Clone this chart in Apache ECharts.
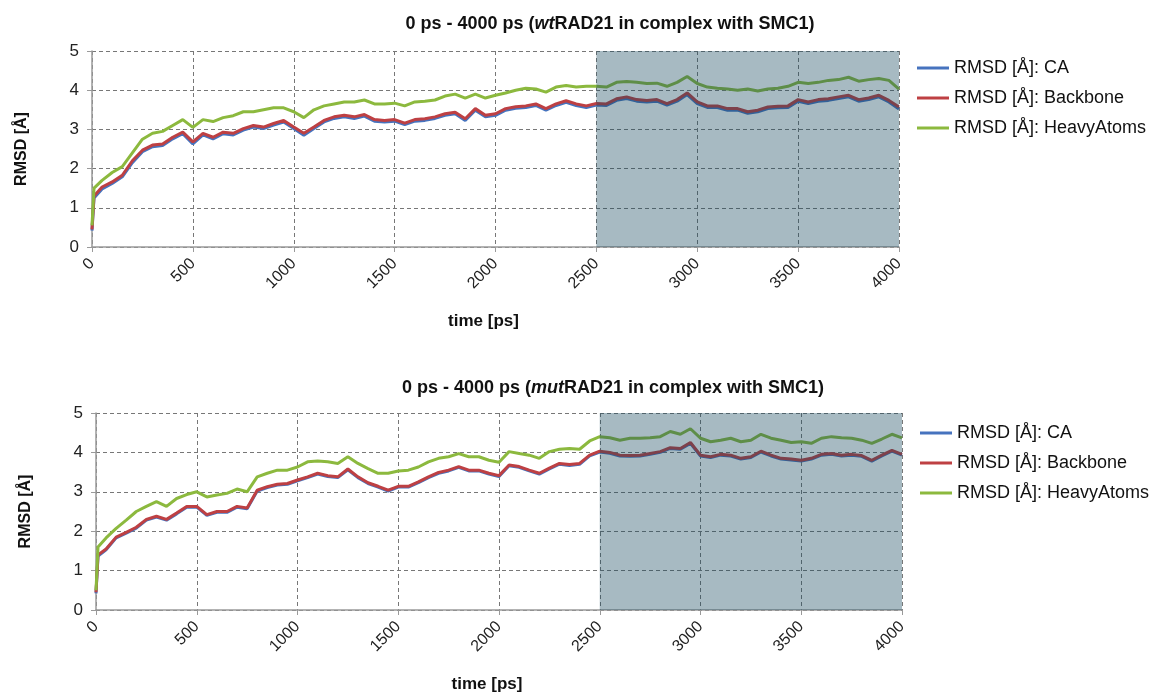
<!DOCTYPE html>
<html>
<head>
<meta charset="utf-8">
<script src="https://cdn.jsdelivr.net/npm/echarts@6/dist/echarts.min.js"></script>
<style>
html,body{margin:0;padding:0;background:#fff;}
#c{width:1153px;height:696px;}
</style>
</head>
<body>
<div id="c"></div>
<script>
// time points [ps]
const times = [0, 10, 50, 100, 150, 200, 250, 300, 350, 400, 450, 500, 550, 600, 650, 700, 750, 800, 850, 900, 950,
  1000, 1050, 1100, 1150, 1200, 1250, 1300, 1350, 1400, 1450, 1500, 1550, 1600, 1650, 1700, 1750, 1800, 1850, 1900, 1950,
  2000, 2050, 2100, 2150, 2200, 2250, 2300, 2350, 2400, 2450, 2500, 2550, 2600, 2650, 2700, 2750, 2800, 2850, 2900, 2950,
  3000, 3050, 3100, 3150, 3200, 3250, 3300, 3350, 3400, 3450, 3500, 3550, 3600, 3650, 3700, 3750, 3800, 3850, 3900, 3950, 4000];

// wtRAD21 in complex with SMC1
const wtCA = [0.42, 1.25, 1.48, 1.62, 1.79, 2.15, 2.43, 2.56, 2.59, 2.76, 2.89, 2.63, 2.86, 2.76, 2.89, 2.86, 2.98, 3.06, 3.02, 3.11, 3.19,
  3.02, 2.85, 3.02, 3.19, 3.28, 3.32, 3.28, 3.34, 3.21, 3.19, 3.21, 3.12, 3.21, 3.23, 3.28, 3.36, 3.40, 3.23, 3.49, 3.32,
  3.36, 3.49, 3.54, 3.56, 3.61, 3.49, 3.61, 3.69, 3.61, 3.56, 3.62, 3.61, 3.74, 3.79, 3.72, 3.70, 3.72, 3.62, 3.72, 3.89,
  3.66, 3.56, 3.56, 3.49, 3.49, 3.41, 3.45, 3.53, 3.55, 3.56, 3.72, 3.66, 3.72, 3.74, 3.79, 3.83, 3.72, 3.76, 3.83, 3.70, 3.52];
const wtBackbone = [0.45, 1.30, 1.53, 1.66, 1.83, 2.20, 2.47, 2.60, 2.63, 2.80, 2.93, 2.68, 2.90, 2.80, 2.93, 2.90, 3.02, 3.10, 3.06, 3.15, 3.23,
  3.06, 2.90, 3.06, 3.23, 3.32, 3.36, 3.32, 3.38, 3.25, 3.23, 3.25, 3.16, 3.25, 3.27, 3.32, 3.40, 3.44, 3.27, 3.53, 3.36,
  3.40, 3.53, 3.58, 3.60, 3.65, 3.53, 3.65, 3.73, 3.65, 3.60, 3.66, 3.65, 3.78, 3.83, 3.76, 3.74, 3.76, 3.66, 3.76, 3.93,
  3.70, 3.60, 3.60, 3.53, 3.53, 3.45, 3.49, 3.57, 3.59, 3.60, 3.76, 3.70, 3.76, 3.78, 3.83, 3.87, 3.76, 3.80, 3.87, 3.74, 3.57];
const wtHeavy = [0.55, 1.50, 1.70, 1.90, 2.05, 2.40, 2.75, 2.90, 2.95, 3.10, 3.25, 3.05, 3.25, 3.20, 3.30, 3.35, 3.45, 3.45, 3.50, 3.55, 3.55,
  3.45, 3.30, 3.50, 3.60, 3.65, 3.70, 3.70, 3.75, 3.65, 3.65, 3.67, 3.60, 3.70, 3.72, 3.75, 3.85, 3.90, 3.80, 3.90, 3.80,
  3.87, 3.93, 4.00, 4.05, 4.03, 3.95, 4.08, 4.12, 4.08, 4.10, 4.10, 4.08, 4.20, 4.22, 4.20, 4.17, 4.18, 4.10, 4.20, 4.35,
  4.17, 4.08, 4.05, 4.03, 4.00, 4.03, 3.98, 4.03, 4.05, 4.10, 4.20, 4.17, 4.20, 4.25, 4.27, 4.33, 4.23, 4.27, 4.30, 4.25, 4.03];

// mutRAD21 in complex with SMC1
const mutCA = [0.42, 1.37, 1.53, 1.83, 1.95, 2.08, 2.28, 2.36, 2.28, 2.44, 2.61, 2.61, 2.40, 2.48, 2.48, 2.61, 2.57, 3.02, 3.11, 3.17, 3.19,
  3.28, 3.36, 3.45, 3.39, 3.36, 3.56, 3.36, 3.21, 3.12, 3.02, 3.12, 3.12, 3.23, 3.36, 3.47, 3.53, 3.62, 3.53, 3.53, 3.45,
  3.39, 3.66, 3.62, 3.53, 3.45, 3.58, 3.70, 3.67, 3.70, 3.91, 4.01, 3.98, 3.91, 3.90, 3.91, 3.95, 4.00, 4.10, 4.08, 4.23,
  3.91, 3.87, 3.93, 3.91, 3.83, 3.87, 4.01, 3.91, 3.83, 3.81, 3.78, 3.83, 3.93, 3.95, 3.91, 3.93, 3.90, 3.78, 3.91, 4.03, 3.93];
const mutBackbone = [0.45, 1.40, 1.55, 1.85, 1.97, 2.10, 2.30, 2.38, 2.30, 2.46, 2.63, 2.63, 2.42, 2.50, 2.50, 2.63, 2.59, 3.04, 3.13, 3.19, 3.21,
  3.30, 3.38, 3.47, 3.41, 3.38, 3.58, 3.38, 3.23, 3.14, 3.04, 3.14, 3.14, 3.25, 3.38, 3.49, 3.55, 3.64, 3.55, 3.55, 3.47,
  3.41, 3.68, 3.64, 3.55, 3.47, 3.60, 3.72, 3.69, 3.72, 3.93, 4.03, 4.00, 3.93, 3.92, 3.93, 3.97, 4.02, 4.12, 4.10, 4.25,
  3.93, 3.89, 3.95, 3.93, 3.85, 3.89, 4.03, 3.93, 3.85, 3.83, 3.80, 3.85, 3.95, 3.97, 3.93, 3.95, 3.92, 3.80, 3.93, 4.05, 3.95];
const mutHeavy = [0.50, 1.60, 1.83, 2.07, 2.28, 2.50, 2.63, 2.75, 2.63, 2.83, 2.93, 3.00, 2.87, 2.92, 2.96, 3.07, 3.00, 3.38, 3.47, 3.55, 3.55,
  3.63, 3.76, 3.78, 3.76, 3.72, 3.89, 3.72, 3.59, 3.47, 3.47, 3.53, 3.55, 3.63, 3.76, 3.85, 3.89, 3.97, 3.89, 3.89, 3.80,
  3.75, 4.02, 3.97, 3.93, 3.85, 4.02, 4.08, 4.10, 4.08, 4.29, 4.40, 4.37, 4.31, 4.36, 4.36, 4.37, 4.40, 4.53, 4.46, 4.60,
  4.36, 4.27, 4.31, 4.36, 4.27, 4.31, 4.46, 4.36, 4.31, 4.25, 4.27, 4.23, 4.36, 4.40, 4.37, 4.36, 4.31, 4.23, 4.34, 4.46, 4.37];

const seriesNames = ['RMSD [Å]: CA', 'RMSD [Å]: Backbone', 'RMSD [Å]: HeavyAtoms'];
const xTicks = [0, 500, 1000, 1500, 2000, 2500, 3000, 3500, 4000];
const yTicks = [0, 1, 2, 3, 4, 5];
const shadeRange = [2500, 4000];
const titles = ['wt', 'mut'];

const colors = ['#4673be', '#be4043', '#8cb93e'];
const FONT = '"Liberation Sans", Arial, sans-serif';

function pairs(vals) { return times.map((t, i) => [t, vals[i]]); }

const grids = [
  {left: 92, top: 51, width: 807, height: 196},
  {left: 96, top: 413, width: 806, height: 197}
];

function xAxisFor(i) {
  return {
    gridIndex: i, type: 'value', min: xTicks[0], max: xTicks[xTicks.length - 1], interval: 500,
    name: 'time [ps]', nameLocation: 'middle', nameGap: 66,
    nameTextStyle: {fontFamily: FONT, fontWeight: 'bold', fontSize: 17, color: '#111', padding: [0, 24, 0, 0]},
    axisLine: {lineStyle: {color: '#9a9a9a', width: 1.5}},
    axisTick: {show: true, length: 5, lineStyle: {color: '#9a9a9a'}},
    axisLabel: {rotate: 45, fontFamily: FONT, fontSize: 16, color: '#222', margin: 14, formatter: v => String(v)},
    splitLine: {show: true, lineStyle: {color: '#777', type: [4, 3], width: 1}}
  };
}
function yAxisFor(i) {
  return {
    gridIndex: i, type: 'value', min: yTicks[0], max: yTicks[yTicks.length - 1], interval: 1,
    name: 'RMSD [Å]', nameLocation: 'middle', nameGap: 62,
    nameTextStyle: {fontFamily: FONT, fontWeight: 'bold', fontSize: 16, color: '#111'},
    axisLine: {show: true, lineStyle: {color: '#9a9a9a', width: 1.5}},
    axisTick: {show: true, length: 5, lineStyle: {color: '#9a9a9a'}},
    axisLabel: {fontFamily: FONT, fontSize: 17, color: '#222', margin: 13},
    splitLine: {show: true, lineStyle: {color: '#777', type: [4, 3], width: 1}}
  };
}

const datasets = [[wtCA, wtBackbone, wtHeavy], [mutCA, mutBackbone, mutHeavy]];
const series = [];
datasets.forEach((set, gi) => {
  set.forEach((vals, si) => {
    series.push({
      name: seriesNames[si], type: 'line', xAxisIndex: gi, yAxisIndex: gi,
      data: pairs(vals), showSymbol: false, symbol: 'none', z: 2,
      lineStyle: {color: colors[si], width: 3}, itemStyle: {color: colors[si]}
    });
  });
  series.push({
    name: 'shade' + gi, type: 'line', xAxisIndex: gi, yAxisIndex: gi,
    data: [[shadeRange[0], yTicks[yTicks.length - 1]], [shadeRange[1], yTicks[yTicks.length - 1]]],
    symbol: 'none', silent: true, z: 5,
    lineStyle: {width: 0, opacity: 0},
    areaStyle: {color: 'rgba(16,68,90,0.37)', origin: 'start', opacity: 1}
  });
});

const legendBase = {
  orient: 'vertical', data: seriesNames, icon: 'rect', itemWidth: 32, itemHeight: 3, itemGap: 12,
  textStyle: {fontFamily: FONT, fontSize: 18, color: '#111'}, selectedMode: false
};

const titleRich = {
  b: {fontFamily: FONT, fontWeight: 'bold', fontSize: 18, color: '#111'},
  i: {fontFamily: FONT, fontWeight: 'bold', fontStyle: 'italic', fontSize: 18, color: '#111'}
};

const option = {
  animation: false,
  backgroundColor: '#fff',
  title: [
    {text: '{b|0 ps - 4000 ps (}{i|' + titles[0] + '}{b|RAD21 in complex with SMC1)}', left: 605, top: 10, textAlign: 'center',
      textStyle: {rich: titleRich}},
    {text: '{b|0 ps - 4000 ps (}{i|' + titles[1] + '}{b|RAD21 in complex with SMC1)}', left: 608, top: 374, textAlign: 'center',
      textStyle: {rich: titleRich}}
  ],
  legend: [
    Object.assign({}, legendBase, {left: 912, top: 54}),
    Object.assign({}, legendBase, {left: 915, top: 419})
  ],
  grid: grids,
  xAxis: [xAxisFor(0), xAxisFor(1)],
  yAxis: [yAxisFor(0), yAxisFor(1)],
  series: series
};

const chart = echarts.init(document.getElementById('c'), null, {renderer: 'canvas'});
chart.setOption(option);
</script>
</body>
</html>
